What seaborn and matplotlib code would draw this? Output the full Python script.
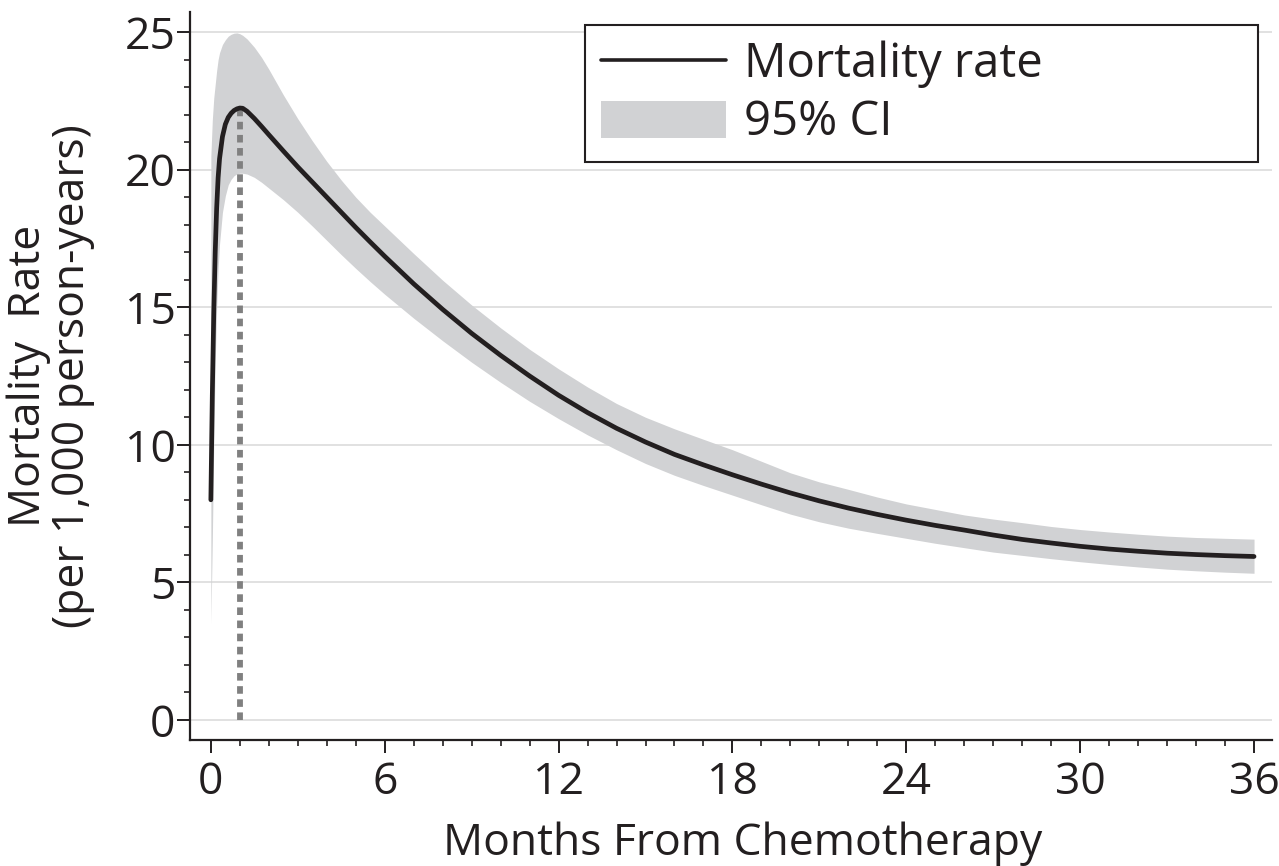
import numpy as np
import pandas as pd
import matplotlib
matplotlib.use("Agg")
import matplotlib.pyplot as plt
from matplotlib.lines import Line2D
from matplotlib.patches import Patch
from matplotlib.ticker import MultipleLocator
import seaborn as sns

months = [0, 0.05, 0.1, 0.15, 0.2, 0.25, 0.3, 0.4, 0.5, 0.6, 0.7, 0.8, 0.9, 1.0, 1.1, 1.25, 1.5, 1.75,
          2.0, 2.5, 3.0, 3.5, 4.0, 4.5, 5.0, 5.5, 6, 7, 8, 9, 10, 11, 12, 13, 14, 15, 16, 17, 18, 19, 20,
          21, 22, 23, 24, 25, 26, 27, 28, 29, 30, 31, 32, 33, 34, 35, 36]
rate = [8.0, 11.8, 14.8, 17.0, 18.6, 19.7, 20.4, 21.2, 21.65, 21.9, 22.05, 22.15, 22.21, 22.24, 22.23,
        22.12, 21.86, 21.57, 21.27, 20.68, 20.1, 19.55, 19.0, 18.45, 17.9, 17.37, 16.85, 15.85, 14.92, 14.05,
        13.25, 12.5, 11.8, 11.17, 10.6, 10.1, 9.65, 9.27, 8.91, 8.57, 8.25, 7.96, 7.7, 7.47, 7.26, 7.07,
        6.9, 6.72, 6.56, 6.43, 6.31, 6.21, 6.13, 6.06, 6.01, 5.97, 5.94]
lower = [3.5, 6.5, 10.0, 13.0, 15.0, 16.4, 17.3, 18.45, 19.05, 19.45, 19.65, 19.78, 19.85, 19.87, 19.87,
         19.84, 19.72, 19.54, 19.33, 18.91, 18.45, 17.95, 17.43, 16.91, 16.41, 15.93, 15.47, 14.6, 13.78, 13.0,
         12.27, 11.58, 10.95, 10.36, 9.82, 9.32, 8.89, 8.52, 8.17, 7.82, 7.48, 7.2, 6.97, 6.78, 6.6, 6.42,
         6.26, 6.1, 5.98, 5.86, 5.75, 5.65, 5.56, 5.48, 5.42, 5.37, 5.33]
upper = [20.5, 21.8, 22.6, 23.1, 23.6, 24.0, 24.25, 24.55, 24.72, 24.85, 24.92, 24.96, 24.97, 24.94, 24.88,
         24.75, 24.45, 24.08, 23.65, 22.72, 21.85, 21.05, 20.3, 19.62, 19.0, 18.45, 17.95, 16.95, 15.98, 15.08,
         14.25, 13.47, 12.76, 12.1, 11.5, 11.0, 10.58, 10.2, 9.82, 9.4, 8.98, 8.65, 8.38, 8.1, 7.85, 7.65,
         7.45, 7.3, 7.17, 7.03, 6.92, 6.83, 6.75, 6.68, 6.63, 6.6, 6.57]

x_ticks = [0, 6, 12, 18, 24, 30, 36]
y_ticks = [0, 5, 10, 15, 20, 25]

df = pd.DataFrame({"months": months, "rate": rate, "lower": lower, "upper": upper})

sns.set_theme(style="white")
FONT = ["Open Sans", "DejaVu Sans"]
plt.rcParams["font.family"] = FONT
TXT = "#231f20"
BAND = "#d1d2d4"
FS = 32

fig = plt.figure(figsize=(12.79, 8.66), dpi=100)
ax = fig.add_axes([190 / 1279, 1 - 740 / 866, (1272 - 190) / 1279, (740 - 12) / 866])

ax.fill_between(df["months"], df["lower"], df["upper"], color=BAND, linewidth=0, zorder=2)
sns.lineplot(data=df, x="months", y="rate", color=TXT, linewidth=3.4, ax=ax, zorder=4)

peak_idx = int(np.argmax(df["rate"].values))
peak_x = df["months"].iloc[peak_idx]
peak_y = df["rate"].iloc[peak_idx]
ax.plot([peak_x, peak_x], [0, peak_y], color="#808080", linewidth=4.2,
        linestyle=(0, (1.3, 0.95)), dash_capstyle="butt", zorder=3)

ax.set_xlim(-0.72, 36.62)
ax.set_ylim(-0.73, 25.73)
ax.set_xticks(x_ticks)
ax.set_yticks(y_ticks)
ax.xaxis.set_minor_locator(MultipleLocator(1))
ax.yaxis.set_minor_locator(MultipleLocator(1))
ax.yaxis.grid(True, which="major", color="#dcdcdc", linewidth=1.2, zorder=0)
ax.xaxis.grid(False)
ax.set_axisbelow(True)

for s in ["top", "right"]:
    ax.spines[s].set_visible(False)
for s in ["left", "bottom"]:
    ax.spines[s].set_color(TXT)
    ax.spines[s].set_linewidth(1.6)

ax.tick_params(axis="both", which="major", direction="out", length=9.5, width=1.4, color=TXT,
               labelsize=FS, labelcolor=TXT, bottom=True, left=True)
ax.tick_params(axis="x", which="major", pad=5)
ax.tick_params(axis="y", which="major", pad=1)
ax.tick_params(axis="both", which="minor", direction="out", length=4.5, width=1.2, color=TXT,
               bottom=True, left=True)

ax.set_xlabel("Months From Chemotherapy", fontsize=FS, color=TXT, labelpad=12)
ax.xaxis.label.set_x((743 - 190) / (1272 - 190))
ax.set_ylabel("Mortality  Rate\n(per 1,000 person-years)", fontsize=FS, color=TXT, labelpad=21,
              linespacing=1.0)

handles = [Line2D([0], [0], color=TXT, linewidth=2.6),
           Patch(facecolor=BAND, edgecolor="none")]
x0 = (585 - 190) / (1272 - 190)
x1 = (1258 - 190) / (1272 - 190)
ytop = (740 - 25) / (740 - 12)
leg = ax.legend(handles, ["Mortality rate", "95% CI"], loc="upper left",
                bbox_to_anchor=(x0, 0.0, x1 - x0, ytop), mode="expand", borderaxespad=0,
                fontsize=34, handlelength=2.65, handleheight=0.83, handletextpad=0.38,
                labelspacing=0.23, borderpad=0.33, frameon=True, fancybox=False, labelcolor=TXT)
leg.get_frame().set_edgecolor(TXT)
leg.get_frame().set_linewidth(1.5)
leg.get_frame().set_alpha(1)

fig.savefig("out.png", dpi=100)
